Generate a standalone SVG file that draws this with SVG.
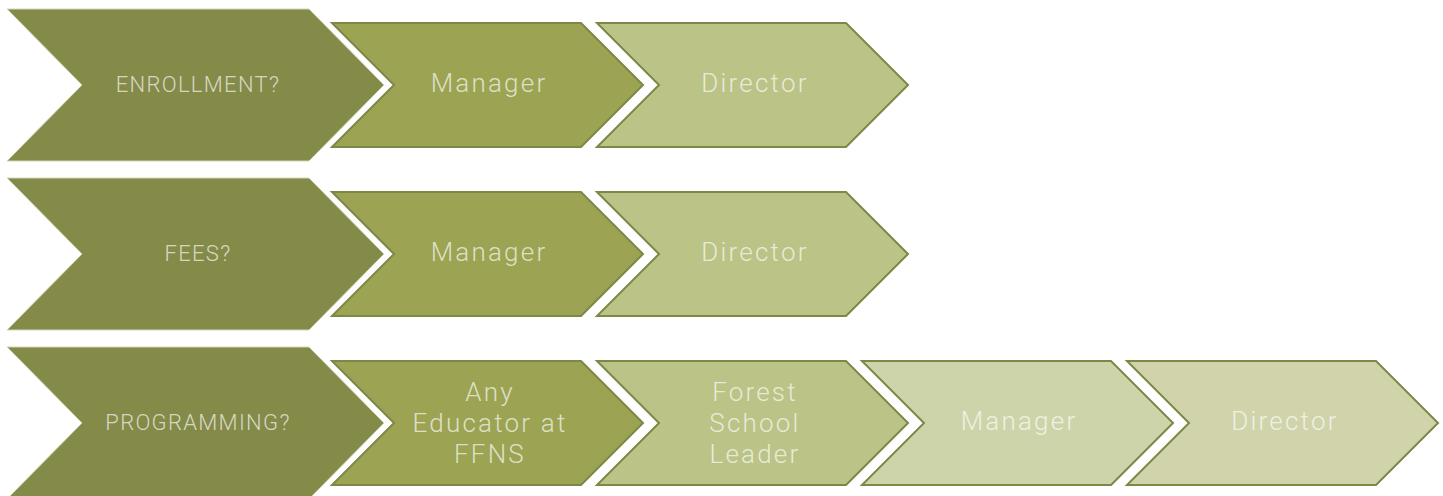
<svg xmlns="http://www.w3.org/2000/svg" xmlns:xlink="http://www.w3.org/1999/xlink" width="1443" height="496" viewBox="0 0 1443 496">
  <style>
    .lead { fill: #848a48; stroke: #d3d6b8; stroke-width: 1; }
    .s1 { fill: #9ca352; stroke: #7e8846; stroke-width: 2; }
    .s2 { fill: #bbc386; stroke: #7e8846; stroke-width: 2; }
    .s3 { fill: #ced4a9; stroke: #7e8846; stroke-width: 2; }
    .s4 { fill: #d1d4aa; stroke: #7e8846; stroke-width: 2; }
    text { font-family: Roboto, "Open Sans", sans-serif; font-weight: 300; fill: #ffffff; fill-opacity: 0.68; text-anchor: middle; }
    .cap { font-size: 22px; letter-spacing: 1.3px; }
    .big { font-size: 26px; letter-spacing: 2.2px; }
  </style>
  <defs>
    <!-- large leading chevron, origin at its left edge, vertically centred -->
    <polygon id="lead-shape" points="0,-76 302,-76 377,0 302,76 0,76 75,0"/>
    <!-- following step chevron -->
    <polygon id="step-shape" points="0,-62 249,-62 311,0 249,62 0,62 62,0"/>
  </defs>

  <rect width="1443" height="496" fill="#ffffff"/>

  <!-- Row 1: enrollment -->
  <g id="enrollment">
    <use xlink:href="#lead-shape" x="7" y="85" class="lead"/>
    <text class="cap" x="198" y="92">ENROLLMENT?</text>
  </g>
  <g id="enrollment-manager">
    <use xlink:href="#step-shape" x="332" y="85" class="s1"/>
    <text class="big" x="489" y="92">Manager</text>
  </g>
  <g id="enrollment-director">
    <use xlink:href="#step-shape" x="597" y="85" class="s2"/>
    <text class="big" x="755" y="92">Director</text>
  </g>

  <!-- Row 2: fees -->
  <g id="fees">
    <use xlink:href="#lead-shape" x="7" y="254" class="lead"/>
    <text class="cap" x="198" y="261">FEES?</text>
  </g>
  <g id="fees-manager">
    <use xlink:href="#step-shape" x="332" y="254" class="s1"/>
    <text class="big" x="489" y="261">Manager</text>
  </g>
  <g id="fees-director">
    <use xlink:href="#step-shape" x="597" y="254" class="s2"/>
    <text class="big" x="755" y="261">Director</text>
  </g>

  <!-- Row 3: programming -->
  <g id="programming">
    <use xlink:href="#lead-shape" x="7" y="423" class="lead"/>
    <text class="cap" x="198" y="430">PROGRAMMING?</text>
  </g>
  <g id="programming-educator">
    <use xlink:href="#step-shape" x="332" y="423" class="s1"/>
    <text class="big"><tspan x="490" y="401">Any</tspan><tspan x="490" y="432">Educator at</tspan><tspan x="490" y="463">FFNS</tspan></text>
  </g>
  <g id="programming-forest-leader">
    <use xlink:href="#step-shape" x="597" y="423" class="s2"/>
    <text class="big"><tspan x="755" y="401">Forest</tspan><tspan x="755" y="432">School</tspan><tspan x="755" y="463">Leader</tspan></text>
  </g>
  <g id="programming-manager">
    <use xlink:href="#step-shape" x="862" y="423" class="s3"/>
    <text class="big" x="1019" y="430">Manager</text>
  </g>
  <g id="programming-director">
    <use xlink:href="#step-shape" x="1127" y="423" class="s4"/>
    <text class="big" x="1285" y="430">Director</text>
  </g>
</svg>
